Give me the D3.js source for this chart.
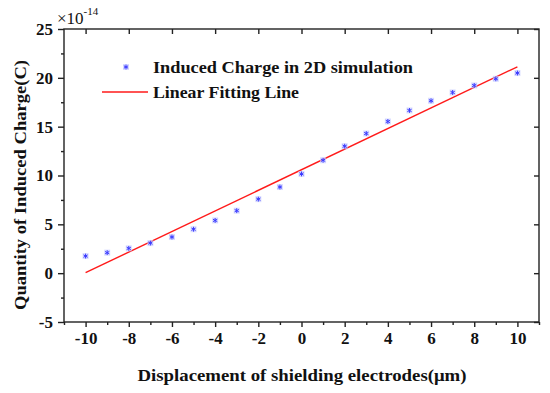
<!DOCTYPE html>
<html>
<head>
<meta charset="utf-8">
<script src="https://cdn.jsdelivr.net/npm/d3@7"></script>
<style>
  body { margin: 0; background: #fff; }
  text { font-family: "Liberation Serif", "DejaVu Serif", serif; font-weight: bold; fill: #111; }
</style>
</head>
<body>
<svg id="chart" width="550" height="393"></svg>
<script>
// data (charge in units of 1e-14 C)
var displacement = [-10, -9, -8, -7, -6, -5, -4, -3, -2, -1, 0, 1, 2, 3, 4, 5, 6, 7, 8, 9, 10];
var induced = [1.75, 2.1, 2.54, 3.08, 3.7, 4.5, 5.4, 6.4, 7.58, 8.82, 10.16, 11.56, 13.0, 14.3, 15.53, 16.66, 17.65, 18.5, 19.22, 19.9, 20.49];
var fitX = [-10, 10];
var fitY = [0.05, 21.13];
var xTicks = [-10, -8, -6, -4, -2, 0, 2, 4, 6, 8, 10];
var yTicks = [-5, 0, 5, 10, 15, 20, 25];

var svg = d3.select("#chart");
var plotL = 64, plotR = 539, plotT = 29, plotB = 322;

var x = d3.scaleLinear().domain([-11, 11]).range([plotL, plotR]);
var y = d3.scaleLinear().domain([-5, 25]).range([plotB, plotT]);
var fmt = function(d) { return String(d); }; // keep hyphen minus like the original

// frame
svg.append("rect")
  .attr("x", plotL).attr("y", plotT)
  .attr("width", plotR - plotL).attr("height", plotB - plotT)
  .attr("fill", "none").attr("stroke", "#222").attr("stroke-width", 1.4);

// bottom axis
svg.append("g").attr("transform", "translate(0," + plotB + ")")
  .call(d3.axisBottom(x).tickValues(xTicks).tickSize(5).tickPadding(5).tickFormat(fmt));
svg.append("g").attr("transform", "translate(0," + plotB + ")")
  .call(d3.axisBottom(x).tickValues(d3.range(-11, 12, 2)).tickSize(3).tickFormat(""));
// left axis
svg.append("g").attr("transform", "translate(" + plotL + ",0)")
  .call(d3.axisLeft(y).tickValues(yTicks).tickSize(6).tickPadding(5).tickFormat(fmt));
svg.append("g").attr("transform", "translate(" + plotL + ",0)")
  .call(d3.axisLeft(y).tickValues(d3.range(-2.5, 25, 5)).tickSize(3).tickFormat(""));
// top and right ticks (inward)
svg.append("g").attr("transform", "translate(0," + plotT + ")")
  .call(d3.axisTop(x).tickValues(xTicks).tickSize(-5).tickFormat(""));
svg.append("g").attr("transform", "translate(" + plotR + ",0)")
  .call(d3.axisRight(y).tickValues(yTicks).tickSize(-5).tickFormat(""));

svg.selectAll(".domain").remove();
svg.selectAll(".tick line").attr("stroke", "#222").attr("stroke-width", 1.4);
svg.selectAll(".tick text")
  .attr("font-size", 17).attr("fill", "#111")
  .style("font-family", "'Liberation Serif', serif").style("font-weight", "bold");

// exponent
var expo = svg.append("text").attr("x", 57).attr("y", 24).attr("font-size", 17)
  .style("font-weight", "normal");
expo.append("tspan").text("×10");
expo.append("tspan").attr("dy", -9).attr("font-size", 11).text("-14");

// fit line
svg.append("line")
  .attr("x1", x(fitX[0])).attr("y1", y(fitY[0]))
  .attr("x2", x(fitX[1])).attr("y2", y(fitY[1]))
  .attr("stroke", "#ff1a1a").attr("stroke-width", 1.4);

// points
var sym = d3.symbol().type(d3.symbolAsterisk).size(16);
function drawMark(sel) {
  sel.append("rect").attr("x", -3).attr("y", -3).attr("width", 6).attr("height", 6)
    .attr("fill", "#c8ccff").attr("opacity", 0.7);
  sel.append("path").attr("d", sym)
    .attr("fill", "none").attr("stroke", "#3a3aff").attr("stroke-width", 1);
}
svg.append("g").selectAll("g")
  .data(displacement)
  .join("g")
  .attr("transform", function(d, i) { return "translate(" + x(d) + "," + y(induced[i]) + ")"; })
  .call(drawMark);

// legend
svg.append("g").attr("transform", "translate(126,67)").call(drawMark);
svg.append("text").attr("x", 153).attr("y", 73).attr("font-size", 17)
  .attr("textLength", 260).attr("lengthAdjust", "spacingAndGlyphs")
  .text("Induced Charge in 2D simulation");
svg.append("line").attr("x1", 102).attr("x2", 148).attr("y1", 92).attr("y2", 92)
  .attr("stroke", "#ff1a1a").attr("stroke-width", 1.4);
svg.append("text").attr("x", 153).attr("y", 98).attr("font-size", 17)
  .attr("textLength", 146).attr("lengthAdjust", "spacingAndGlyphs")
  .text("Linear Fitting Line");

// axis titles
svg.append("text").attr("x", 302).attr("y", 381).attr("text-anchor", "middle").attr("font-size", 17)
  .attr("textLength", 329).attr("lengthAdjust", "spacingAndGlyphs")
  .text("Displacement of shielding electrodes(μm)");
svg.append("text").attr("transform", "translate(26,185) rotate(-90)").attr("text-anchor", "middle").attr("font-size", 17)
  .attr("textLength", 250).attr("lengthAdjust", "spacingAndGlyphs")
  .text("Quantity of Induced Charge(C)");
</script>
</body>
</html>
